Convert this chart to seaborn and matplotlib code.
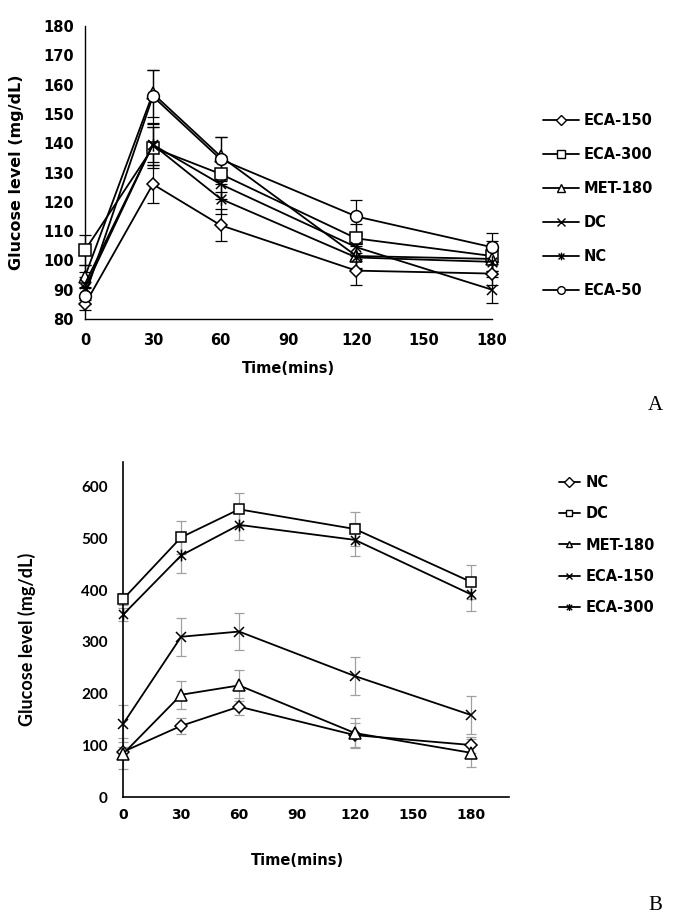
import pandas as pd
import matplotlib.pyplot as plt
import matplotlib.path as mpath
import seaborn as sns

# ==============================
# Data
# ==============================
time_min = [0, 30, 60, 120, 180]

# Panel A - groups in legend order
groups_a = ['ECA-150', 'ECA-300', 'MET-180', 'DC', 'NC', 'ECA-50']
eca150_a = [85, 126, 112, 96.5, 95.5]
eca300_a = [103.5, 138.5, 129.5, 107.5, 101.5]
met180_a = [94.5, 157, 135.5, 101.5, 100.5]
dc_a = [92, 139.5, 126, 104.5, 90]
nc_a = [90.5, 139.5, 121, 101, 99.5]
eca50_a = [88, 156, 134.5, 115, 104.5]

eca150_a_err = [2, 6.5, 5.5, 5, 4]
eca300_a_err = [5, 7, 6, 5, 5]
met180_a_err = [4, 8, 6.5, 4, 4]
dc_a_err = [4, 6, 5, 4, 4.5]
nc_a_err = [4, 7, 5, 4, 4]
eca50_a_err = [3, 9, 7.5, 5.5, 5]

# Panel B
groups_b = ['NC', 'DC', 'MET-180', 'ECA-150', 'ECA-300']
nc_b = [88, 138, 175, 120, 101]
dc_b = [383, 502, 556, 518, 416]
met180_b = [84, 198, 216, 124, 86]
eca150_b = [142, 310, 320, 234, 159]
eca300_b = [353, 467, 526, 497, 392]

nc_b_err = [10, 16, 17, 23, 15]
dc_b_err = [12, 32, 32, 33, 33]
met180_b_err = [30, 27, 30, 29, 27]
eca150_b_err = [36, 37, 36, 37, 37]
eca300_b_err = [12, 33, 30, 32, 32]

# long tables for seaborn
def long_table(groups, values, errors):
    rows = []
    for g, vals, errs in zip(groups, values, errors):
        for t, v, e in zip(time_min, vals, errs):
            rows.append({'group': g, 'time': t, 'glucose': v, 'err': e})
    return pd.DataFrame(rows)

df_a = long_table(groups_a,
                  [eca150_a, eca300_a, met180_a, dc_a, nc_a, eca50_a],
                  [eca150_a_err, eca300_a_err, met180_a_err, dc_a_err, nc_a_err, eca50_a_err])
df_b = long_table(groups_b,
                  [nc_b, dc_b, met180_b, eca150_b, eca300_b],
                  [nc_b_err, dc_b_err, met180_b_err, eca150_b_err, eca300_b_err])

# x with a vertical bar (Excel style star)
star = mpath.Path([(-1, -1), (1, 1), (-1, 1), (1, -1), (0, -1.3), (0, 1.3)],
                  [1, 2, 1, 2, 1, 2])

markers_a = {'ECA-150': 'D', 'ECA-300': 's', 'MET-180': '^', 'DC': 'x', 'NC': star, 'ECA-50': 'o'}
msize_a = {'ECA-150': 6, 'ECA-300': 8, 'MET-180': 8, 'DC': 7, 'NC': 9, 'ECA-50': 8.5}
markers_b = {'NC': 'D', 'DC': 's', 'MET-180': '^', 'ECA-150': 'x', 'ECA-300': star}
msize_b = {'NC': 6, 'DC': 7.5, 'MET-180': 8, 'ECA-150': 7, 'ECA-300': 8.5}

sns.set_style('white')
plt.rcParams['font.family'] = ['DejaVu Sans']
plt.rcParams['text.color'] = 'black'
plt.rcParams['axes.labelcolor'] = 'black'
plt.rcParams['xtick.color'] = 'black'
plt.rcParams['ytick.color'] = 'black'

fig = plt.figure(figsize=(6.81, 9.23), dpi=100)
ax1 = fig.add_axes([0.1248, 0.6544, 0.5977, 0.3174])
ax2 = fig.add_axes([0.181, 0.1362, 0.567, 0.3636])


def draw_panel(ax, df, groups, markers, msize, ecolor, capsize):
    for g in groups:
        sub = df[df['group'] == g]
        ax.errorbar(sub['time'], sub['glucose'], yerr=sub['err'], fmt='none',
                    ecolor=ecolor, elinewidth=0.9, capsize=capsize, capthick=0.9,
                    zorder=2, clip_on=False)
    for g in groups:
        sub = df[df['group'] == g]
        sns.lineplot(data=sub, x='time', y='glucose', ax=ax, color='black',
                     marker=markers[g], markersize=msize[g], markerfacecolor='white',
                     markeredgecolor='black', markeredgewidth=1.1, linewidth=1.3,
                     label=g, zorder=3, clip_on=False)


# ==============================
# Panel A
# ==============================
draw_panel(ax1, df_a, groups_a, markers_a, msize_a, 'black', 4)
ax1.set_xlim(0, 180)
ax1.set_ylim(80, 180)
ax1.set_xticks(range(0, 181, 30))
ax1.set_yticks(range(80, 181, 10))
ax1.tick_params(length=0, labelsize=10.5)
ax1.tick_params(axis='y', pad=8)
ax1.tick_params(axis='x', pad=10)
for lab in ax1.get_xticklabels() + ax1.get_yticklabels():
    lab.set_fontweight('bold')
ax1.set_xlabel('Time(mins)', fontsize=10.5, fontweight='bold')
ax1.set_ylabel('Glucose level (mg/dL)', fontsize=11.5, fontweight='bold')
ax1.xaxis.set_label_coords(0.5, -0.145)
ax1.yaxis.set_label_coords(-0.15, 0.5)
sns.despine(ax=ax1)
for s in ['left', 'bottom']:
    ax1.spines[s].set_color('black')
    ax1.spines[s].set_linewidth(1.0)

leg1 = ax1.legend(loc='center left', bbox_to_anchor=(0.787, 0.7774),
                  bbox_transform=fig.transFigure, frameon=False, borderpad=0,
                  handlelength=2.45, handletextpad=0.3, labelspacing=1.3,
                  prop={'weight': 'bold', 'size': 10.5})
for h in leg1.legend_handles:
    h.set_markersize(5.5)
    h.set_markeredgewidth(1.0)

# ==============================
# Panel B
# ==============================
draw_panel(ax2, df_b, groups_b, markers_b, msize_b, '#a0a0a0', 3.5)
ax2.set_xlim(0, 200)
ax2.set_ylim(0, 648)
ax2.set_xticks(range(0, 181, 30))
ax2.set_yticks(range(0, 601, 100))
ax2.tick_params(length=0)
ax2.tick_params(axis='x', pad=8, labelsize=10)
ax2.tick_params(axis='y', pad=11, labelsize=11)
for lab in ax2.get_xticklabels():
    lab.set_fontweight('bold')
for lab in ax2.get_yticklabels():
    lab.set_family('Lato')
    lab.set_fontweight('bold')
ax2.set_xlabel('Time(mins)', fontsize=10.5, fontweight='bold')
ax2.set_ylabel('Glucose level (mg/dL)', fontsize=13, fontweight='bold', family='Lato')
ax2.xaxis.set_label_coords(0.45, -0.165)
ax2.yaxis.set_label_coords(-0.225, 0.47)
sns.despine(ax=ax2)
for s in ['left', 'bottom']:
    ax2.spines[s].set_color('black')
    ax2.spines[s].set_linewidth(1.2)

leg2 = ax2.legend(loc='center left', bbox_to_anchor=(0.810, 0.4095),
                  bbox_transform=fig.transFigure, frameon=False, borderpad=0,
                  handlelength=1.45, handletextpad=0.35, labelspacing=1.12,
                  prop={'weight': 'bold', 'size': 10.5})
for h in leg2.legend_handles:
    h.set_markersize(5)
    h.set_markeredgewidth(1.0)

# panel letters
fig.text(0.962, 0.561, 'A', fontsize=15, family='Liberation Serif', ha='center', va='center')
fig.text(0.962, 0.019, 'B', fontsize=15, family='Liberation Serif', ha='center', va='center')

fig.savefig('out.png', dpi=100, facecolor='white')
